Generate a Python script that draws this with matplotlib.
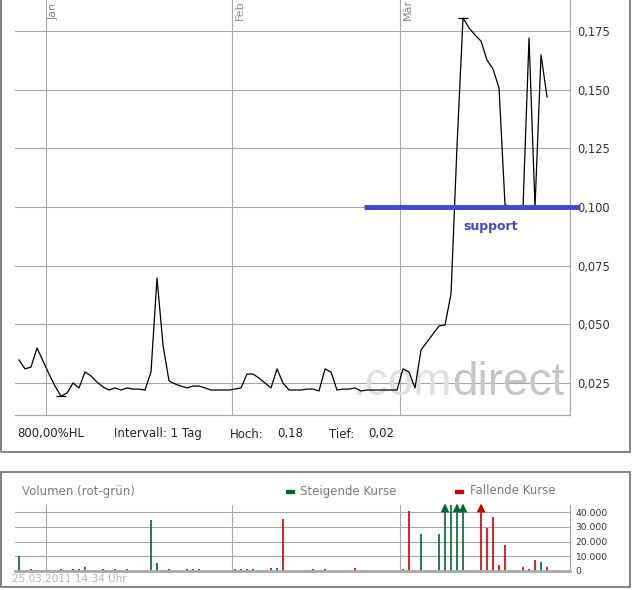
import matplotlib
matplotlib.use('Agg')
import matplotlib.pyplot as plt
import matplotlib.dates as mdates
from matplotlib.patches import Rectangle
import numpy as np
import pandas as pd

# Daily closing prices (calendar days from 27.12.2010 to 25.03.2011)
price = [0.0348, 0.0310, 0.0318, 0.0399, 0.0344, 0.0288, 0.0237, 0.0194, 0.0207, 0.0250,
         0.0229, 0.0297, 0.0280, 0.0254, 0.0233, 0.0220, 0.0229, 0.0220, 0.0229, 0.0224,
         0.0224, 0.0220, 0.0297, 0.0697, 0.0412, 0.0259, 0.0246, 0.0237, 0.0229, 0.0237,
         0.0237, 0.0229, 0.0220, 0.0220, 0.0220, 0.0220, 0.0224, 0.0229, 0.0288, 0.0288,
         0.0271, 0.0250, 0.0229, 0.0310, 0.0250, 0.0220, 0.0220, 0.0220, 0.0224, 0.0224,
         0.0216, 0.0310, 0.0297, 0.0220, 0.0224, 0.0224, 0.0229, 0.0216, 0.0220, 0.0220,
         0.0220, 0.0220, 0.0220, 0.0220, 0.0310, 0.0297, 0.0229, 0.0391, 0.0425, 0.0459,
         0.0493, 0.0497, 0.0630, 0.1260, 0.1805, 0.1763, 0.1733, 0.1707, 0.1626, 0.1588,
         0.1507, 0.1009, 0.1000, 0.1000, 0.1000, 0.1720, 0.1000, 0.1648, 0.1469]
days = pd.date_range('2010-12-27 12:00', periods=len(price), freq='D')

# Volume per day, up = rising price (green), otherwise red
vol_dates = ['2010-12-27', '2010-12-29', '2011-01-03', '2011-01-05', '2011-01-06', '2011-01-07',
             '2011-01-10', '2011-01-12', '2011-01-14', '2011-01-18', '2011-01-19', '2011-01-21',
             '2011-01-24', '2011-01-25', '2011-01-26', '2011-02-01', '2011-02-02', '2011-02-03',
             '2011-02-04', '2011-02-07', '2011-02-08', '2011-02-09', '2011-02-14', '2011-02-16',
             '2011-02-21', '2011-03-01', '2011-03-02', '2011-03-04', '2011-03-07', '2011-03-08',
             '2011-03-09', '2011-03-10', '2011-03-11', '2011-03-14', '2011-03-15', '2011-03-16',
             '2011-03-17', '2011-03-18', '2011-03-21', '2011-03-22', '2011-03-23', '2011-03-24',
             '2011-03-25']
vol_values = [10000, 1200, 1200, 1200, 1200, 3000,
              1200, 1200, 1200, 35000, 5500, 1200,
              1200, 1200, 1200, 1200, 1200, 1200,
              1200, 1800, 1800, 35400, 1200, 1200,
              1800, 1200, 40800, 25100, 25100, 60000,
              45000, 60000, 60000, 60000, 29200, 37000,
              3900, 17600, 2700, 1200, 7300, 6200,
              2700]
vol_up = [1, 0, 0, 1, 0, 1,
          0, 1, 1, 1, 1, 0,
          0, 1, 1, 0, 1, 1,
          1, 0, 1, 0, 0, 1,
          0, 1, 0, 1, 1, 1,
          1, 1, 1, 0, 0, 0,
          0, 0, 0, 1, 0, 1,
          0]

months = ['2011-01-01', '2011-02-01', '2011-03-01']
month_labels = ['Jan', 'Feb', 'Mär']
price_ticks = [0.025, 0.05, 0.075, 0.1, 0.125, 0.15, 0.175]
vol_ticks = [0, 10000, 20000, 30000, 40000]
support_level = 0.10
support_from, support_to = '2011-02-23', '2011-03-31'
support_label_at = '2011-03-16 04:00'

GREEN = '#006633'
RED = '#cc0000'
GRID = '#a8a8a8'

W, H = 632, 590
def fx(x):
    return x / W
def fy(y):
    return 1 - y / H

fig = plt.figure(figsize=(W / 100, H / 100), dpi=100)

d0 = mdates.date2num(pd.Timestamp('2010-12-27'))
xlim = (d0 + 0.5 - 0.667, d0 + 0.5 + 91.83)

# ---- price panel ----
ax = fig.add_axes([fx(15), fy(415), fx(570) - fx(15), fy(0) - fy(415)])
ax.plot(days, price, color='black', lw=0.9, zorder=3)
ax.set_xlim(xlim)
ax.set_ylim(0.01136, 0.1882)

# high / low markers
i_hi, i_lo = int(np.argmax(price)), int(np.argmin(price))
for i in (i_hi, i_lo):
    c = mdates.date2num(days[i])
    ax.hlines(price[i], c - 0.9, c + 0.9, color='black', lw=0.9, zorder=3)

ax.set_xticks(pd.to_datetime(months))
ax.set_yticks(price_ticks)
ax.set_yticklabels([f'{v:.3f}'.replace('.', ',') for v in price_ticks])
ax.yaxis.tick_right()
ax.tick_params(axis='y', length=0, pad=5, labelsize=8.3, labelcolor='#333333')
ax.tick_params(axis='x', length=0, labelbottom=False)
ax.grid(True, color=GRID, lw=0.8)
ax.set_axisbelow(True)
for s in ('top', 'left'):
    ax.spines[s].set_visible(False)
for s in ('right', 'bottom'):
    ax.spines[s].set_color(GRID)
    ax.spines[s].set_linewidth(0.9)

for m, lab in zip(pd.to_datetime(months), month_labels):
    ax.text(m + pd.Timedelta(hours=10), 1 - 20 / 415, lab, transform=ax.get_xaxis_transform(),
            rotation=90, ha='left', va='bottom', fontsize=8, color='#8a8a8a')

# watermark
ax.text(fx(452), fy(383), '.com', transform=fig.transFigure, ha='right', va='center',
        fontsize=33, family='Liberation Sans', color='#e0e0e0', zorder=1)
ax.text(fx(452), fy(383), 'direct', transform=fig.transFigure, ha='left', va='center',
        fontsize=33, family='Liberation Sans', color='#c6c6c6', zorder=1)

# support line
ax.plot(pd.to_datetime([support_from, support_to]), [support_level, support_level],
        color='#4048c8', lw=3.5, solid_capstyle='butt', clip_on=False, zorder=4)
ax.text(pd.Timestamp(support_label_at), 0.0915, 'support', ha='center', va='center',
        fontsize=9, fontweight='bold', color='#4048c8', zorder=4)

# info row
hoch = f'{max(price):.2f}'.replace('.', ',')
tief = f'{min(price):.2f}'.replace('.', ',')
info = [(17, '800,00%HL'), (114, 'Intervall: 1 Tag'), (230, 'Hoch:'), (277, hoch),
        (329, 'Tief:'), (368, tief)]
for x, s in info:
    fig.text(fx(x), fy(434), s, fontsize=8.5, va='center', color='#222222')

# ---- volume panel ----
axv = fig.add_axes([fx(15), fy(571), fx(570) - fx(15), fy(505) - fy(571)])
vmax = 45000
vd = pd.to_datetime(vol_dates) + pd.Timedelta(hours=12)
vv = np.array(vol_values)
vc = [GREEN if u else RED for u in vol_up]
axv.vlines(vd, 0, np.minimum(vv, vmax), colors=vc, lw=1.2, zorder=2)
clipped = vv > vmax
axv.scatter(vd[clipped], [vmax * 0.955] * clipped.sum(), marker='^', s=40,
            c=[c for c, k in zip(vc, clipped) if k], clip_on=False, zorder=3, linewidths=0)
axv.set_xlim(xlim)
axv.set_ylim(0, vmax)
axv.set_xticks(pd.to_datetime(months))
axv.set_yticks(vol_ticks)
axv.set_yticklabels([f'{v:,}'.replace(',', '.') for v in vol_ticks])
axv.yaxis.tick_right()
axv.tick_params(axis='y', length=0, pad=4, labelsize=6.6, labelcolor='#333333')
axv.tick_params(axis='x', length=0, labelbottom=False)
axv.grid(True, color=GRID, lw=0.8)
axv.set_axisbelow(True)
for s in ('top', 'left'):
    axv.spines[s].set_visible(False)
axv.spines['right'].set_color(GRID)
axv.spines['bottom'].set_color(GRID)
axv.spines['bottom'].set_linewidth(2)

fig.text(fx(22), fy(491), 'Volumen (rot-grün)', fontsize=8.5, va='center', color='#7a7a7a')
fig.add_artist(Rectangle((fx(286), fy(492.5)), fx(8), 3 / H, color=GREEN,
                         transform=fig.transFigure))
fig.text(fx(300), fy(491), 'Steigende Kurse', fontsize=8.5, va='center', color='#7a7a7a')
fig.add_artist(Rectangle((fx(455), fy(492.5)), fx(8), 3 / H, color=RED,
                         transform=fig.transFigure))
fig.text(fx(470), fy(491), 'Fallende Kurse', fontsize=8.5, va='center', color='#7a7a7a')
fig.text(fx(12), fy(579), '25.03.2011 14:34 Uhr', fontsize=7.5, va='center', color='#b4b4b4')

# panel frames
fig.add_artist(Rectangle((fx(0.8), fy(452)), fx(630) - fx(0.8), fy(-5) - fy(452), fill=False,
                         edgecolor='#6e6e6e', lw=1.2, transform=fig.transFigure))
fig.add_artist(Rectangle((fx(0.8), fy(587)), fx(630) - fx(0.8), fy(472) - fy(587), fill=False,
                         edgecolor='#6e6e6e', lw=1.2, transform=fig.transFigure))

fig.savefig('out.png', dpi=100)
